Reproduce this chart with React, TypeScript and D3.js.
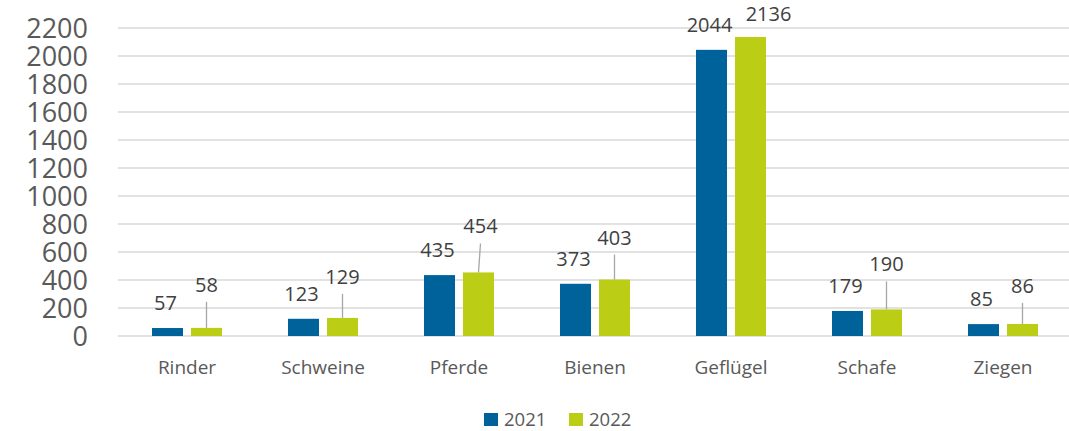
import React from "react";
import * as d3 from "d3";

const categories = ["Rinder", "Schweine", "Pferde", "Bienen", "Geflügel", "Schafe", "Ziegen"];
const values2021 = [57, 123, 435, 373, 2044, 179, 85];
const values2022 = [58, 129, 454, 403, 2136, 190, 86];
const seriesNames = ["2021", "2022"];
const yTicks = [0, 200, 400, 600, 800, 1000, 1200, 1400, 1600, 1800, 2000, 2200];

// manual label placement (layout, as in the original chart)
const lift2022 = [36, 34, 39, 35, 16, 38, 31];
const shift2022 = [0, 0, 2, 0, 18, 0, 0];
const leader2022 = [true, true, true, true, false, true, true];

const COLORS = ["#00629b", "#bccd16"];
const FONT = "'Open Sans', 'Noto Sans', sans-serif";

export default function App() {
  const W = 1069, H = 431;
  const x = d3.scaleBand<string>().domain(categories).range([119, 1071]).paddingInner(0).paddingOuter(0);
  const inner = d3.scaleBand<string>().domain(seriesNames).range([-35, 35]).paddingInner(8 / 39).paddingOuter(0);
  const y = d3.scaleLinear().domain([0, 2200]).range([336, 28]);
  const series = [values2021, values2022];

  return (
    <svg width={W} height={H} style={{ position: "absolute", left: 0, top: 0, background: "#fff" }} fontFamily={FONT}>
      {yTicks.map((t) => (
        <g key={t}>
          <line x1={118} x2={W} y1={y(t)} y2={y(t)} stroke="#d9d9d9" strokeWidth={1.5} />
          <text x={88} y={y(t)} dy="0.36em" textAnchor="end" fontSize={27} fill="#595959">{t}</text>
        </g>
      ))}
      {categories.map((c, i) => {
        const cx = (x(c) as number) + x.bandwidth() / 2;
        return (
          <g key={c}>
            {series.map((vals, s) => {
              const bx = cx + (inner(seriesNames[s]) as number);
              const bw = inner.bandwidth();
              const top = y(vals[i]);
              const mid = bx + bw / 2;
              if (s === 0) {
                return (
                  <g key={s}>
                    <rect x={bx} y={top} width={bw} height={y(0) - top} fill={COLORS[s]} />
                    <text x={mid - 2} y={top - 18} textAnchor="middle" fontSize={20} fill="#404040">{vals[i]}</text>
                  </g>
                );
              }
              const base = top - lift2022[i];
              return (
                <g key={s}>
                  <rect x={bx} y={top} width={bw} height={y(0) - top} fill={COLORS[s]} />
                  {leader2022[i] && (
                    <line x1={mid + shift2022[i]} x2={mid} y1={base + 10} y2={top} stroke="#a6a6a6" strokeWidth={1.3} />
                  )}
                  <text x={mid + shift2022[i]} y={base} textAnchor="middle" fontSize={20} fill="#404040">{vals[i]}</text>
                </g>
              );
            })}
            <text x={cx} y={374} textAnchor="middle" fontSize={19} fill="#595959">{c}</text>
          </g>
        );
      })}
      {seriesNames.map((n, s) => {
        const lx = 484 + s * 85;
        return (
          <g key={n}>
            <rect x={lx} y={413} width={14} height={13} fill={COLORS[s]} />
            <text x={lx + 20} y={425.5} fontSize={18.5} fill="#595959">{n}</text>
          </g>
        );
      })}
    </svg>
  );
}
